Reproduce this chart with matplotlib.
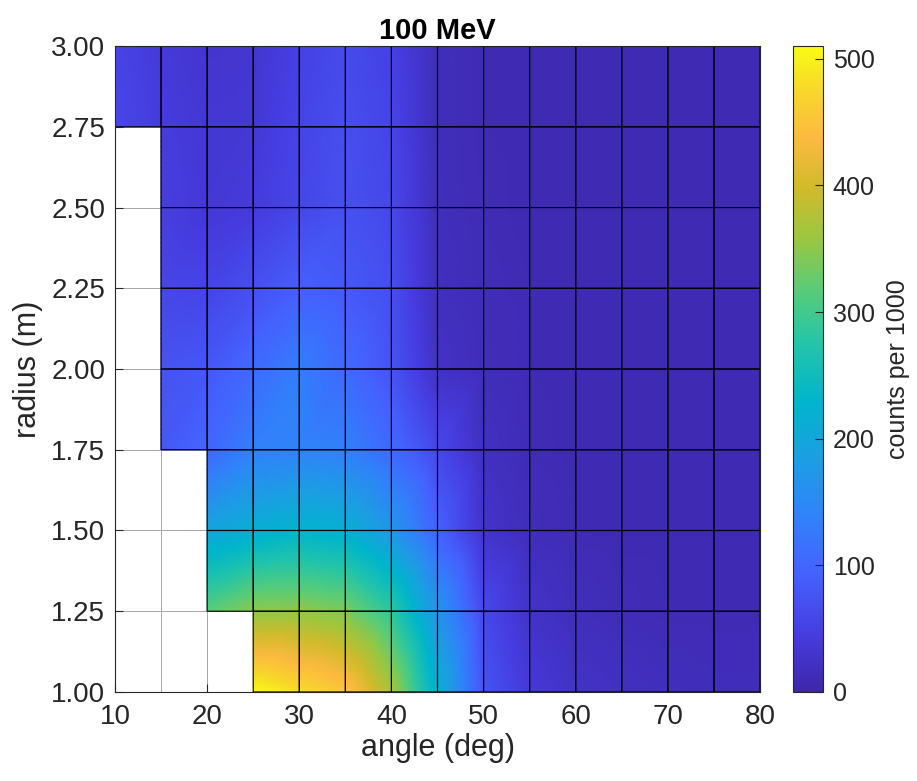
import numpy as np
import matplotlib
matplotlib.use("Agg")
import matplotlib.pyplot as plt
import matplotlib.tri as mtri
from matplotlib.colors import LinearSegmentedColormap

plt.rcParams['font.family'] = ['Liberation Sans', 'DejaVu Sans']

# grid vertices
angles = [10, 15, 20, 25, 30, 35, 40, 45, 50, 55, 60, 65, 70, 75, 80]
radii = [1.00, 1.25, 1.50, 1.75, 2.00, 2.25, 2.50, 2.75, 3.00]

# counts per 1000 at each vertex, one row per radius (nan = no data)
nan = np.nan
counts = [
    [nan, nan, nan, 510, 482, 455, 370, 220, 75, 38, 26, 20, 16, 14, 14],   # r = 1.00
    [nan, nan, 318, 350, 352, 340, 285, 170, 62, 26, 16, 12, 10, 10, 10],   # r = 1.25
    [nan, nan, 195, 215, 228, 218, 172, 95, 28, 14, 10, 9, 9, 9, 9],       # r = 1.50
    [nan, 82, 100, 135, 140, 135, 105, 60, 20, 11, 9, 9, 9, 9, 9],         # r = 1.75
    [nan, 75, 80, 105, 132, 105, 75, 24, 14, 10, 9, 9, 9, 9, 9],            # r = 2.00
    [nan, 58, 55, 70, 90, 82, 68, 18, 12, 10, 9, 9, 9, 9, 9],               # r = 2.25
    [nan, 48, 36, 42, 58, 70, 60, 16, 11, 9, 9, 9, 9, 9, 9],                # r = 2.50
    [60, 44, 35, 36, 55, 68, 56, 15, 10, 9, 9, 9, 9, 9, 9],                 # r = 2.75
    [55, 40, 30, 32, 50, 64, 50, 15, 10, 9, 9, 9, 9, 9, 9],                 # r = 3.00
]

cbar_ticks = [0, 100, 200, 300, 400, 500]

# parula-like colormap
parula = LinearSegmentedColormap.from_list("parula", [
    (0.00, (0.2422, 0.1504, 0.6603)),
    (0.09, (0.2760, 0.2400, 0.8800)),
    (0.18, (0.2700, 0.3800, 0.9950)),
    (0.27, (0.1900, 0.5100, 0.9800)),
    (0.36, (0.1100, 0.6200, 0.8900)),
    (0.45, (0.0000, 0.7100, 0.8000)),
    (0.54, (0.1400, 0.7700, 0.6600)),
    (0.62, (0.3400, 0.8000, 0.4800)),
    (0.70, (0.6000, 0.7800, 0.2600)),
    (0.78, (0.8200, 0.7300, 0.1700)),
    (0.86, (0.9900, 0.7300, 0.2500)),
    (0.93, (0.9700, 0.8400, 0.1700)),
    (1.00, (0.9769, 0.9839, 0.0805)),
], N=512)

A, R = np.meshgrid(angles, radii)
Z = np.array(counts, dtype=float)
nr, na = Z.shape

# two triangles per quad, only where all four corners have data
tris = []
for i in range(nr - 1):
    for j in range(na - 1):
        corners = [i * na + j, i * na + j + 1, (i + 1) * na + j + 1, (i + 1) * na + j]
        if np.all(np.isfinite(Z.ravel()[corners])):
            tris.append([corners[0], corners[1], corners[2]])
            tris.append([corners[0], corners[2], corners[3]])
triang = mtri.Triangulation(A.ravel(), R.ravel(), tris)
zfill = np.nan_to_num(Z.ravel(), nan=0.0)

# interpolate in data space (like MATLAB's shading interp), not in RGB
refiner = mtri.UniformTriRefiner(triang)
fine_tri, fine_z = refiner.refine_field(
    zfill, triinterpolator=mtri.LinearTriInterpolator(triang, zfill), subdiv=4)

fig = plt.figure(figsize=(9.17, 7.81), dpi=100)
ax = fig.add_axes([0.1254, 0.114, 0.7034, 0.827])
cax = fig.add_axes([0.8648, 0.114, 0.0327, 0.827])

vmax = 510
tpc = ax.tripcolor(fine_tri, fine_z, shading='gouraud', cmap=parula, vmin=0, vmax=vmax, zorder=2)

# black cell edges over the cells with data
cell_ok = np.isfinite(Z[:-1, :-1]) & np.isfinite(Z[1:, :-1]) & np.isfinite(Z[:-1, 1:]) & np.isfinite(Z[1:, 1:])
edges = np.ma.masked_array(np.zeros((nr - 1, na - 1)), mask=~cell_ok)
ax.pcolor(A, R, edges, facecolors='none', edgecolors='black', linewidth=0.8, zorder=3)

ax.set_xlim(10, 80)
ax.set_ylim(1.0, 3.0)
ax.set_xticks([10, 20, 30, 40, 50, 60, 70, 80])
ax.set_yticks(radii)
ax.set_yticklabels([f"{r:.2f}" for r in radii])
ax.set_xticks(angles, minor=True)
ax.grid(which='both', color='0.65', linewidth=0.7, zorder=0)
ax.set_axisbelow(True)
ax.tick_params(which='major', direction='in', length=6, labelsize=20, colors='#262626')
ax.tick_params(axis='y', pad=7)
ax.tick_params(axis='x', pad=9)
ax.tick_params(which='minor', length=0)
for s in ax.spines.values():
    s.set_color('#262626')
    s.set_linewidth(0.8)
    s.set_zorder(4)

ax.set_xlabel('angle (deg)', fontsize=22, color='#262626', labelpad=2)
ax.set_ylabel('radius (m)', fontsize=22, color='#262626', labelpad=6)
ax.set_title('100 MeV', fontsize=21, fontweight='bold', pad=5)

cb = fig.colorbar(tpc, cax=cax, ticks=cbar_ticks)
cb.ax.tick_params(direction='in', length=6, labelsize=18, colors='#262626', pad=7)
cb.outline.set_edgecolor('#262626')
cb.outline.set_linewidth(0.8)
cb.set_label('counts per 1000', fontsize=18, color='#262626', labelpad=8)

fig.savefig('out.png', dpi=100)
